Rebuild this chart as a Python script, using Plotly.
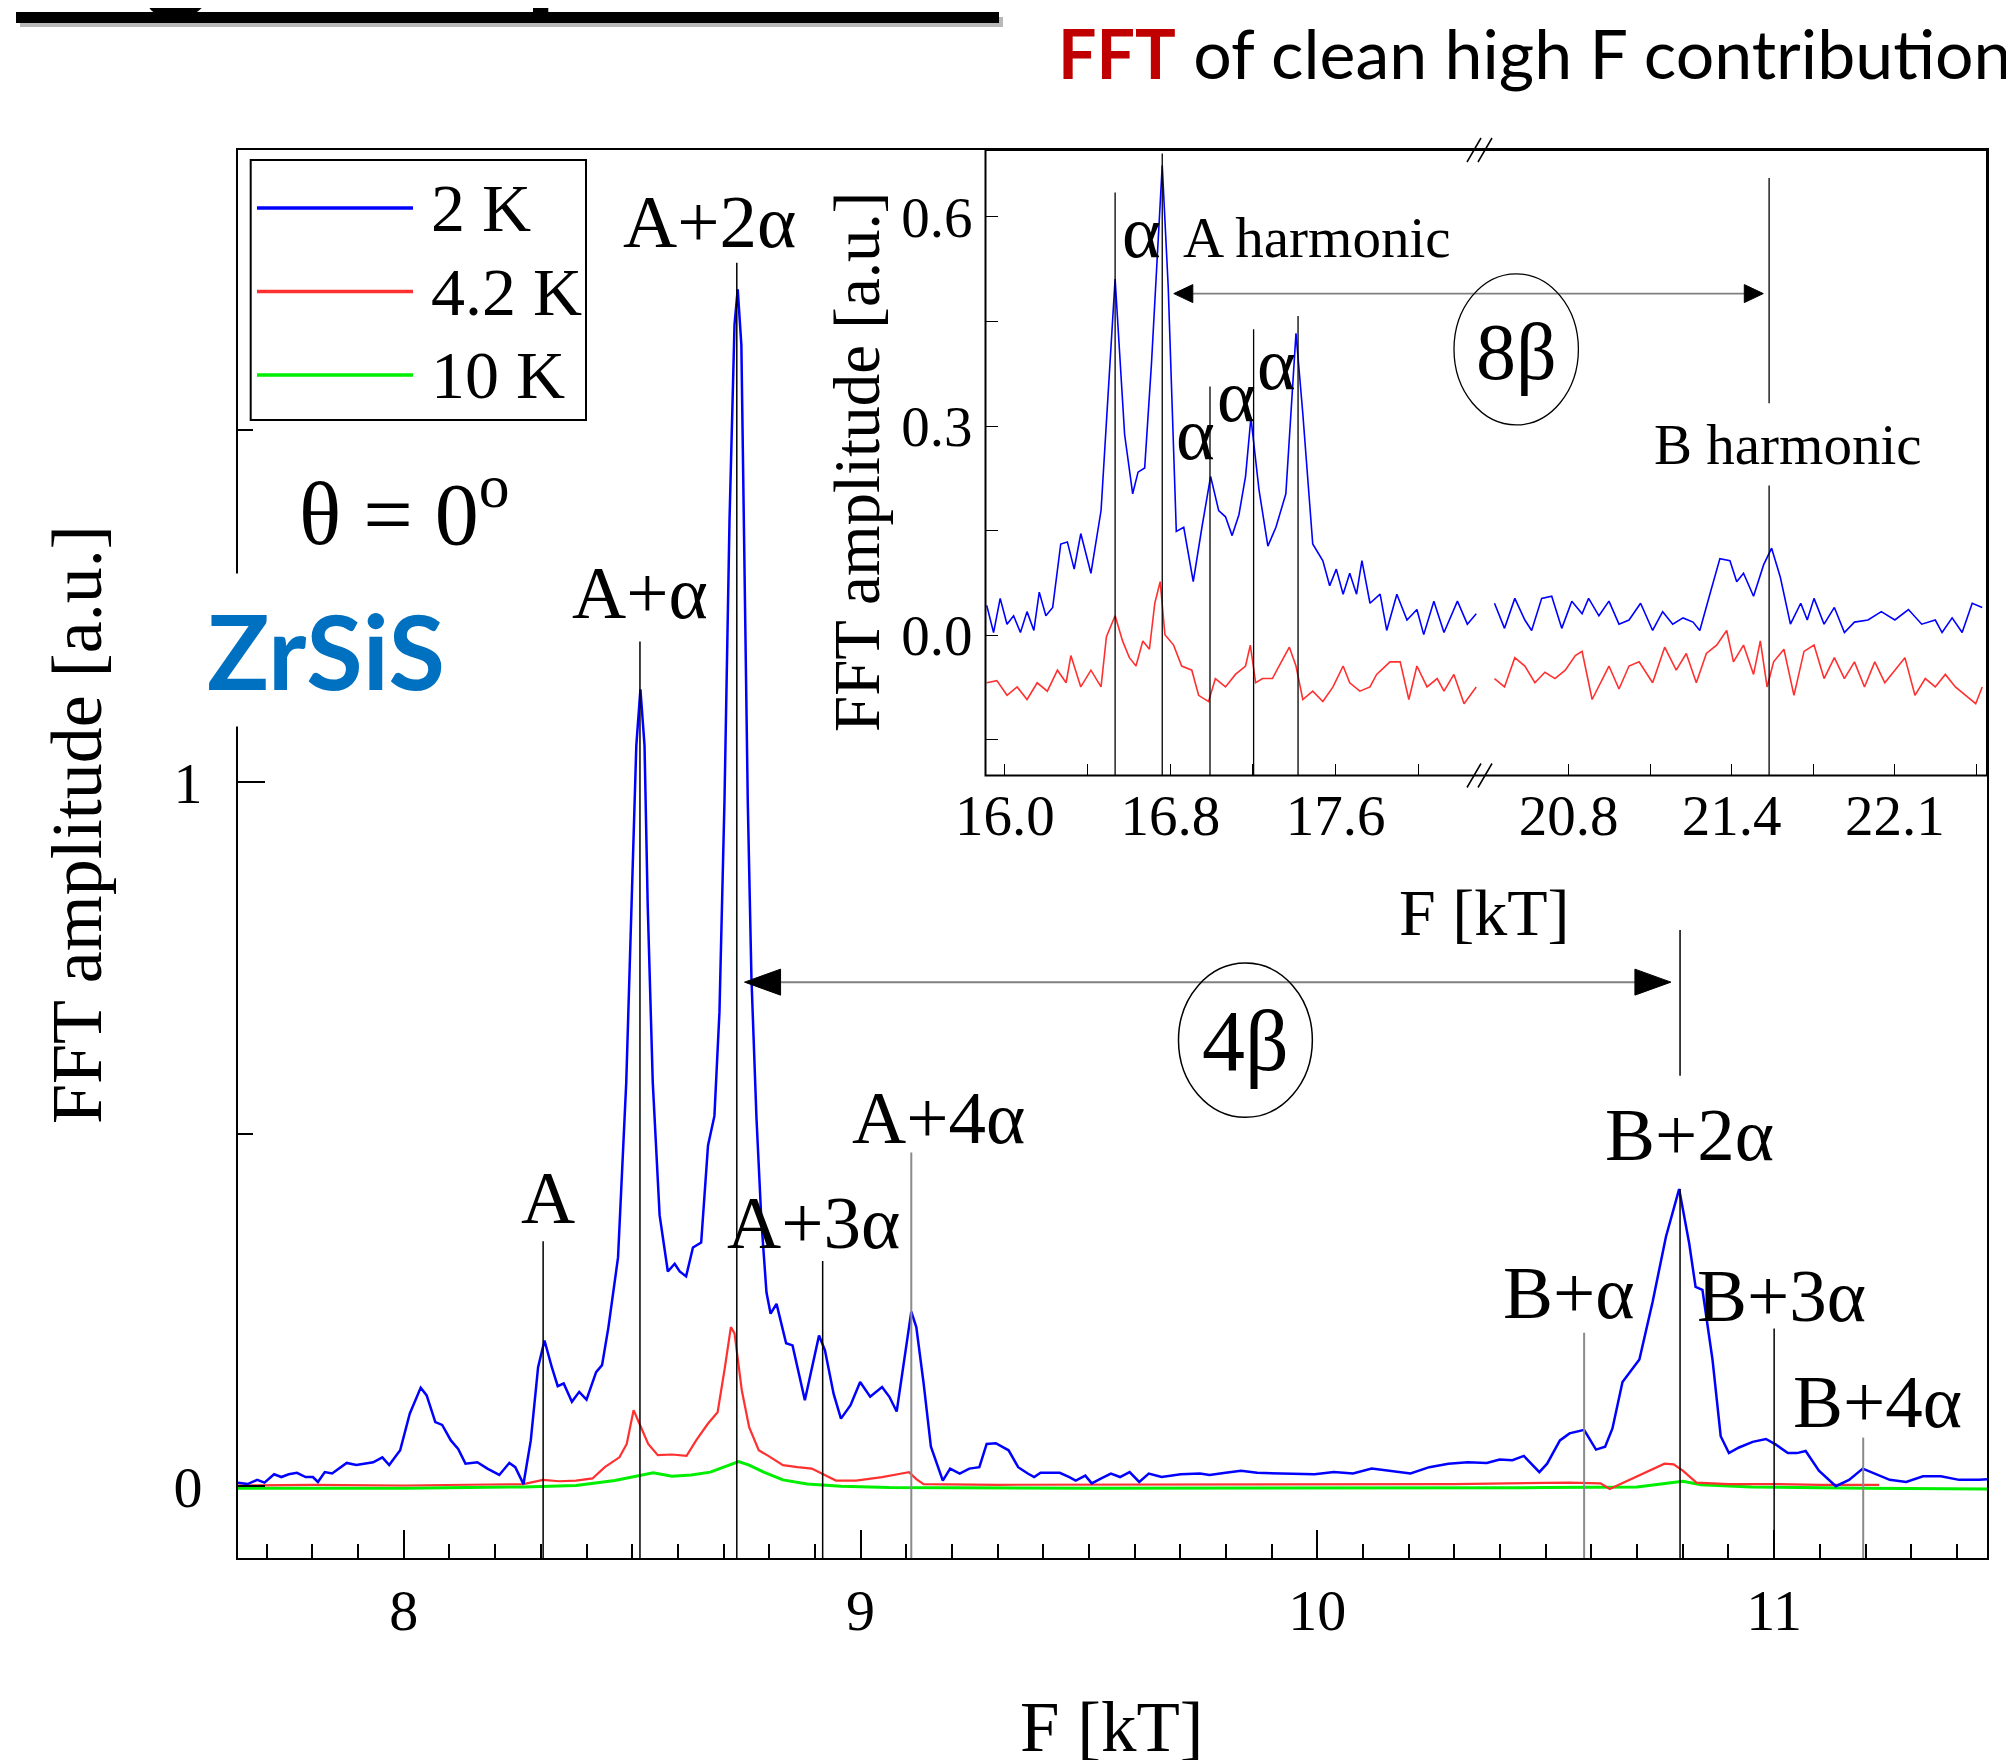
import plotly.graph_objects as go

W, H = 2014, 1760
OFF = 8  # the page body margin shifts the figure by 8 px
SERIF = "Liberation Serif, Times New Roman, serif"
SANS = "Lato, Calibri, sans-serif"


def px(x):
    return (x - OFF) / W


def py(y):
    return 1 - (y - OFF) / H


# ---------------- main panel: FFT spectra (F in kT, amplitude in a.u.) ----------------
f_2k = [7.637, 7.658, 7.679, 7.695, 7.716, 7.732, 7.748, 7.766, 7.785, 7.801, 7.812, 7.827, 7.843,
        7.875, 7.896, 7.917, 7.933, 7.953, 7.968, 7.992, 8.013, 8.037, 8.050, 8.069, 8.084, 8.103,
        8.119, 8.135, 8.161, 8.183, 8.209, 8.231, 8.244, 8.262, 8.278, 8.294, 8.308, 8.324, 8.337,
        8.350, 8.368, 8.384, 8.400, 8.421, 8.434, 8.448, 8.458, 8.469, 8.487, 8.498, 8.509, 8.518,
        8.527, 8.534, 8.545, 8.560, 8.578, 8.593, 8.604, 8.618, 8.633, 8.651, 8.666, 8.680, 8.691,
        8.702, 8.713, 8.724, 8.731, 8.739, 8.746, 8.753, 8.761, 8.772, 8.783, 8.794, 8.803, 8.816,
        8.837, 8.851, 8.878, 8.893, 8.909, 8.922, 8.941, 8.957, 8.978, 8.999, 9.021, 9.047, 9.063,
        9.079, 9.095, 9.111, 9.122, 9.138, 9.154, 9.180, 9.196, 9.217, 9.238, 9.260, 9.276, 9.296,
        9.324, 9.345, 9.366, 9.380, 9.394, 9.436, 9.457, 9.471, 9.492, 9.506, 9.527, 9.548, 9.568,
        9.589, 9.610, 9.631, 9.659, 9.701, 9.743, 9.764, 9.799, 9.833, 9.868, 9.910, 9.952, 9.994,
        10.036, 10.078, 10.119, 10.161, 10.204, 10.245, 10.287, 10.329, 10.371, 10.399, 10.427,
        10.452, 10.469, 10.486, 10.503, 10.531, 10.552, 10.584, 10.610, 10.630, 10.646, 10.668,
        10.705, 10.734, 10.763, 10.792, 10.814, 10.828, 10.843, 10.865, 10.883, 10.901, 10.923,
        10.953, 10.982, 11.004, 11.030, 11.050, 11.069, 11.098, 11.135, 11.164, 11.194, 11.223,
        11.253, 11.289, 11.326, 11.365, 11.405, 11.449, 11.466]
amp_2k = [0.005, 0.003, 0.009, 0.005, 0.017, 0.013, 0.017, 0.019, 0.013, 0.013, 0.006, 0.020, 0.018,
          0.033, 0.030, 0.032, 0.034, 0.041, 0.030, 0.051, 0.103, 0.140, 0.129, 0.091, 0.087, 0.065,
          0.053, 0.032, 0.034, 0.025, 0.016, 0.033, 0.027, 0.003, 0.065, 0.169, 0.207, 0.169, 0.142,
          0.146, 0.120, 0.134, 0.123, 0.162, 0.172, 0.226, 0.270, 0.325, 0.574, 0.824, 1.052, 1.132,
          1.052, 0.824, 0.574, 0.385, 0.305, 0.316, 0.305, 0.298, 0.339, 0.346, 0.484, 0.526, 0.673,
          0.973, 1.371, 1.650, 1.700, 1.621, 1.272, 0.973, 0.723, 0.524, 0.375, 0.275, 0.245, 0.259,
          0.203, 0.200, 0.122, 0.169, 0.214, 0.193, 0.131, 0.096, 0.115, 0.148, 0.127, 0.141, 0.127,
          0.106, 0.179, 0.248, 0.226, 0.146, 0.056, 0.008, 0.025, 0.018, 0.025, 0.027, 0.060, 0.061,
          0.051, 0.027, 0.018, 0.013, 0.019, 0.019, 0.013, 0.008, 0.015, 0.004, 0.011, 0.018, 0.013,
          0.020, 0.006, 0.018, 0.013, 0.017, 0.018, 0.016, 0.019, 0.022, 0.019, 0.018, 0.018, 0.017,
          0.020, 0.018, 0.025, 0.022, 0.018, 0.027, 0.032, 0.034, 0.033, 0.038, 0.037,
          0.043, 0.032, 0.020, 0.032, 0.065, 0.075, 0.080, 0.052, 0.056, 0.082, 0.148,
          0.180, 0.262, 0.354, 0.422, 0.345, 0.283, 0.279, 0.180, 0.071, 0.047, 0.055,
          0.063, 0.067, 0.059, 0.047, 0.047, 0.050, 0.022, 0.000, 0.009, 0.025, 0.017,
          0.009, 0.006, 0.014, 0.014, 0.009, 0.009, 0.010]

f_42k = [7.637, 7.8, 8.0, 8.2, 8.262, 8.305, 8.34, 8.377, 8.413, 8.440, 8.472, 8.488, 8.503, 8.519,
         8.535, 8.556, 8.587, 8.619, 8.640, 8.666, 8.687, 8.703, 8.716, 8.724, 8.740, 8.756, 8.777,
         8.798, 8.830, 8.862, 8.893, 8.915, 8.946, 8.99, 9.047, 9.090, 9.106, 9.122, 9.138, 9.3, 9.6,
         10.0, 10.3, 10.55, 10.62, 10.64, 10.70, 10.76, 10.78, 10.80, 10.83, 10.9, 11.0, 11.1, 11.23]
amp_42k = [0.001, 0.002, 0.001, 0.002, 0.003, 0.009, 0.007, 0.008, 0.011, 0.027, 0.041, 0.060, 0.108,
           0.084, 0.060, 0.044, 0.045, 0.043, 0.065, 0.089, 0.105, 0.169, 0.226, 0.217, 0.136, 0.084,
           0.051, 0.043, 0.030, 0.027, 0.025, 0.018, 0.008, 0.008, 0.013, 0.018, 0.020, 0.010, 0.003,
           0.002, 0.002, 0.002, 0.003, 0.005, 0.004, -0.004, 0.014, 0.032, 0.031, 0.022, 0.005, 0.003,
           0.003, 0.002, 0.002]

f_10k = [7.637, 8.0, 8.262, 8.377, 8.462, 8.514, 8.546, 8.587, 8.629, 8.671, 8.703, 8.733, 8.756,
         8.788, 8.830, 8.883, 8.957, 9.063, 9.5, 10.0, 10.5, 10.7, 10.76, 10.80, 10.84, 10.95, 11.2,
         11.466]
amp_10k = [-0.003, -0.003, -0.001, 0.001, 0.008, 0.015, 0.019, 0.014, 0.016, 0.020, 0.028, 0.035,
           0.030, 0.020, 0.009, 0.003, 0.000, -0.002, -0.003, -0.003, -0.002, -0.001, 0.004, 0.007,
           0.002, -0.001, -0.003, -0.004]

# peak assignments in the main panel
peak_names = ["A", "A+α", "A+2α", "A+3α", "A+4α", "B+α", "B+2α", "B+3α", "B+4α"]
peak_f = [8.305, 8.517, 8.729, 8.917, 9.111, 10.584, 10.794, 11.000, 11.195]
peak_line_top = [0.348, 1.200, 1.738, 0.320, 0.474, 0.218, 0.422, 0.224, 0.069]
peak_line_grey = [False, False, False, False, True, True, False, False, True]
peak_label_f = [8.315, 8.516, 8.670, 8.896, 9.171, 10.551, 10.814, 11.016, 11.227]
peak_label_amp = [0.410, 1.270, 1.797, 0.375, 0.524, 0.275, 0.499, 0.271, 0.121]

# ---------------- inset: high-F contribution (broken F axis) ----------------
fin_lo_2k = [15.912, 15.945, 15.977, 16.010, 16.042, 16.075, 16.107, 16.140, 16.166, 16.198, 16.231,
             16.270, 16.302, 16.335, 16.367, 16.416, 16.465, 16.504, 16.533, 16.579, 16.618, 16.644,
             16.676, 16.709, 16.761, 16.790, 16.829, 16.865, 16.911, 16.953, 16.995, 17.034, 17.067,
             17.099, 17.132, 17.164, 17.190, 17.229, 17.272, 17.311, 17.359, 17.408, 17.441, 17.489,
             17.538, 17.571, 17.603, 17.636, 17.668, 17.701, 17.727, 17.766, 17.815, 17.847, 17.896,
             17.945, 17.993, 18.026, 18.075, 18.124, 18.189, 18.237, 18.280]
ain_lo_2k = [0.043, 0.004, 0.053, 0.016, 0.028, 0.004, 0.034, 0.007, 0.062, 0.028, 0.040,
             0.131, 0.134, 0.095, 0.146, 0.089, 0.179, 0.372, 0.511, 0.288, 0.203, 0.234,
             0.240, 0.390, 0.674, 0.499, 0.149, 0.155, 0.077, 0.155, 0.228, 0.179, 0.170,
             0.143, 0.173, 0.228, 0.312, 0.209, 0.128, 0.155, 0.203, 0.433, 0.318, 0.131,
             0.107, 0.071, 0.095, 0.059, 0.089, 0.059, 0.107, 0.046, 0.059, 0.007, 0.059,
             0.022, 0.037, 0.001, 0.049, 0.004, 0.049, 0.016, 0.031]
fin_hi_2k = [20.505, 20.545, 20.586, 20.626, 20.653, 20.693, 20.733, 20.773, 20.813, 20.854, 20.880,
             20.921, 20.961, 21.001, 21.041, 21.087, 21.135, 21.175, 21.215, 21.256, 21.296, 21.323,
             21.363, 21.403, 21.443, 21.470, 21.497, 21.537, 21.577, 21.609, 21.644, 21.684, 21.725,
             21.751, 21.778, 21.818, 21.859, 21.899, 21.939, 21.993, 22.046, 22.100, 22.154, 22.207,
             22.261, 22.288, 22.328, 22.368, 22.408, 22.448]
ain_hi_2k = [0.046, 0.010, 0.053, 0.022, 0.007, 0.053, 0.056, 0.010, 0.049, 0.031, 0.053,
             0.028, 0.049, 0.016, 0.022, 0.046, 0.007, 0.034, 0.016, 0.025, 0.019, 0.007,
             0.059, 0.110, 0.107, 0.077, 0.089, 0.056, 0.101, 0.125, 0.083, 0.016, 0.046,
             0.022, 0.053, 0.016, 0.040, 0.004, 0.019, 0.022, 0.034, 0.022, 0.037, 0.016,
             0.022, 0.004, 0.025, 0.004, 0.046, 0.040]
fin_lo_42k = [15.912, 15.961, 16.010, 16.059, 16.107, 16.156, 16.205, 16.254, 16.296, 16.319, 16.367,
              16.416, 16.465, 16.491, 16.533, 16.569, 16.602, 16.634, 16.667, 16.699, 16.725, 16.751,
              16.774, 16.816, 16.855, 16.904, 16.937, 16.985, 17.018, 17.067, 17.115, 17.164, 17.187,
              17.213, 17.246, 17.294, 17.337, 17.376, 17.408, 17.441, 17.489, 17.538, 17.587, 17.636,
              17.668, 17.717, 17.766, 17.798, 17.863, 17.912, 17.954, 17.993, 18.042, 18.091, 18.124,
              18.172, 18.221, 18.280]
ain_lo_42k = [-0.068, -0.065, -0.086, -0.074, -0.092, -0.068, -0.080, -0.050, -0.068, -0.029, -0.074,
              -0.050, -0.074, -0.002, 0.028, -0.008, -0.032, -0.044, -0.008, -0.020, 0.046, 0.077,
              0.001, -0.014, -0.044, -0.050, -0.086, -0.095, -0.062, -0.074, -0.056, -0.044, -0.014,
              -0.068, -0.062, -0.062, -0.038, -0.017, -0.044, -0.092, -0.080, -0.095, -0.074, -0.044,
              -0.068, -0.080, -0.074, -0.056, -0.038, -0.038, -0.092, -0.044, -0.074, -0.062, -0.080,
              -0.056, -0.098, -0.074]
fin_hi_42k = [20.505, 20.545, 20.586, 20.626, 20.666, 20.706, 20.746, 20.787, 20.827, 20.854, 20.894,
              20.934, 20.961, 21.001, 21.041, 21.081, 21.135, 21.183, 21.229, 21.269, 21.309, 21.349,
              21.390, 21.430, 21.457, 21.497, 21.537, 21.564, 21.591, 21.617, 21.658, 21.698, 21.738,
              21.778, 21.818, 21.859, 21.899, 21.939, 21.979, 22.020, 22.060, 22.100, 22.140, 22.180,
              22.221, 22.261, 22.301, 22.341, 22.381, 22.422, 22.448]
ain_hi_42k = [-0.062, -0.074, -0.032, -0.044, -0.068, -0.053, -0.062, -0.050, -0.029, -0.023, -0.092,
              -0.062, -0.044, -0.077, -0.044, -0.038, -0.068, -0.017, -0.050, -0.026, -0.068, -0.026,
              -0.014, 0.007, -0.038, -0.014, -0.056, -0.008, -0.074, -0.038, -0.020, -0.086, -0.023,
              -0.014, -0.062, -0.032, -0.062, -0.038, -0.074, -0.038, -0.068, -0.050, -0.032, -0.086,
              -0.062, -0.074, -0.056, -0.074, -0.086, -0.098, -0.074]

inset_alpha_f = [16.533, 16.761, 16.992, 17.203, 17.418]
inset_alpha_top = [0.635, 0.691, 0.357, 0.439, 0.458]
inset_alpha_label_f = [16.660, 16.924, 17.119, 17.314]
inset_alpha_label_amp = [0.579, 0.289, 0.343, 0.389]
inset_b_f = 21.599

BLUE, RED, GREEN = "#0000FF", "#FF3030", "#00EE00"

fig = go.Figure()
# main spectra
fig.add_trace(go.Scatter(x=f_10k, y=amp_10k, mode="lines", name="10 K",
                         line=dict(color=GREEN, width=3), xaxis="x", yaxis="y"))
fig.add_trace(go.Scatter(x=f_42k, y=amp_42k, mode="lines", name="4.2 K",
                         line=dict(color=RED, width=2.2), xaxis="x", yaxis="y"))
fig.add_trace(go.Scatter(x=f_2k, y=amp_2k, mode="lines", name="2 K",
                         line=dict(color=BLUE, width=2.5), xaxis="x", yaxis="y"))
# inset spectra
for xs, ys, col, xa in [(fin_lo_42k, ain_lo_42k, RED, "x2"), (fin_hi_42k, ain_hi_42k, RED, "x3"),
                        (fin_lo_2k, ain_lo_2k, BLUE, "x2"), (fin_hi_2k, ain_hi_2k, BLUE, "x3")]:
    fig.add_trace(go.Scatter(x=xs, y=ys, mode="lines", line=dict(color=col, width=1.6),
                             xaxis=xa, yaxis="y2", showlegend=False))

tickfont_main = dict(family=SERIF, size=58, color="black")
tickfont_in = dict(family=SERIF, size=57, color="black")

fig.update_layout(
    template="none",
    width=W, height=H,
    margin=dict(l=0, r=0, t=0, b=0),
    paper_bgcolor="white", plot_bgcolor="white",
    showlegend=False,
    xaxis=dict(domain=[px(238), px(1987)], range=[7.637, 11.466], anchor="y",
               showline=True, linecolor="black", linewidth=2, mirror=True,
               ticks="inside", ticklen=28, tickwidth=1.5, tickcolor="black",
               tick0=0, dtick=1, tickfont=tickfont_main, ticklabelstandoff=0,
               showgrid=False, zeroline=False, automargin=False,
               minor=dict(ticks="inside", ticklen=14, tickwidth=1.5, tickcolor="black",
                          dtick=0.1, tick0=0, showgrid=False)),
    yaxis=dict(domain=[py(1558), py(150)], range=[-0.102, 1.898], anchor="x",
               showline=True, linecolor="black", linewidth=2, mirror=True,
               ticks="inside", ticklen=27, tickwidth=1.5, tickcolor="black",
               tickmode="array", tickvals=[0, 1], ticktext=["0", "1"],
               tickfont=tickfont_main, ticklabelstandoff=22,
               showgrid=False, zeroline=False, automargin=False,
               minor=dict(ticks="inside", ticklen=15, tickwidth=1.5, tickcolor="black",
                          tickmode="array", tickvals=[0.5, 1.5], showgrid=False)),
    xaxis2=dict(domain=[px(985.5), px(1484.3)], range=[15.906, 18.319], anchor="y2",
                showline=False, ticks="inside", ticklen=12, tickwidth=1.2, tickcolor="black",
                tickmode="array", tickvals=[16.0, 16.8, 17.6], ticktext=["16.0", "16.8", "17.6"],
                tickfont=tickfont_in, ticklabelstandoff=1,
                showgrid=False, zeroline=False, automargin=False,
                minor=dict(ticks="inside", ticklen=12, tickwidth=1.2, tickcolor="black",
                           tickmode="array", tickvals=[16.4, 17.2, 18.0], showgrid=False)),
    xaxis3=dict(domain=[px(1487.7), px(1987)], range=[20.478, 22.467], anchor="y2",
                showline=False, ticks="inside", ticklen=12, tickwidth=1.2, tickcolor="black",
                tickmode="array", tickvals=[20.8, 21.45, 22.1], ticktext=["20.8", "21.4", "22.1"],
                tickfont=tickfont_in, ticklabelstandoff=1,
                showgrid=False, zeroline=False, automargin=False,
                minor=dict(ticks="inside", ticklen=12, tickwidth=1.2, tickcolor="black",
                           tickmode="array", tickvals=[21.125, 21.775, 22.425], showgrid=False)),
    yaxis2=dict(domain=[py(775.5), py(150)], range=[-0.201, 0.696], anchor="x2",
                showline=False, ticks="inside", ticklen=12, tickwidth=1.2, tickcolor="black",
                tickmode="array", tickvals=[0.0, 0.3, 0.6], ticktext=["0.0", "0.3", "0.6"],
                tickfont=tickfont_in, ticklabelstandoff=12,
                showgrid=False, zeroline=False, automargin=False,
                minor=dict(ticks="inside", ticklen=12, tickwidth=1.2, tickcolor="black",
                           tickmode="array", tickvals=[-0.15, 0.15, 0.45], showgrid=False)),
)

shapes = []
# underline of the (cut-off) slide heading, with soft shadow
shapes.append(dict(type="line", xref="paper", yref="paper", x0=px(20), x1=px(1003), y0=py(22), y1=py(22),
                   line=dict(color="rgba(0,0,0,0.28)", width=10)))
shapes.append(dict(type="line", xref="paper", yref="paper", x0=px(16), x1=px(999), y0=py(17.5), y1=py(17.5),
                   line=dict(color="black", width=11)))

# peak marker lines (main)
for f, top, grey in zip(peak_f, peak_line_top, peak_line_grey):
    shapes.append(dict(type="line", xref="x", yref="y", x0=f, x1=f, y0=-0.102, y1=top,
                       line=dict(color="#8a8a8a" if grey else "black", width=2 if grey else 1.5)))
# upper segment of the B+2α marker (arrow target)
shapes.append(dict(type="line", xref="x", yref="y", x0=10.794, x1=10.794, y0=0.583, y1=0.790,
                   line=dict(color="black", width=1.5)))
# 4β double arrow: grey shaft, black heads, ellipse
shapes.append(dict(type="line", xref="x", yref="y", x0=8.78, x1=10.74, y0=0.716, y1=0.716,
                   line=dict(color="#808080", width=2)))
shapes.append(dict(type="path", xref="x", yref="y", xsizemode="pixel", ysizemode="pixel",
                   xanchor=10.774, yanchor=0.716, path="M0,0 L-36,13 L-36,-13 Z",
                   fillcolor="black", line=dict(color="black", width=1)))
shapes.append(dict(type="path", xref="x", yref="y", xsizemode="pixel", ysizemode="pixel",
                   xanchor=8.746, yanchor=0.716, path="M0,0 L36,13 L36,-13 Z",
                   fillcolor="black", line=dict(color="black", width=1)))
shapes.append(dict(type="circle", xref="x", yref="y", x0=9.696, x1=9.989, y0=0.524, y1=0.743,
                   line=dict(color="black", width=1.5)))

# inset frame and axis break marks
shapes.append(dict(type="rect", xref="paper", yref="paper", x0=px(985.5), x1=px(1987), y0=py(775.5), y1=py(150),
                   line=dict(color="black", width=2)))
for cx in (1474, 1485):
    for cy in (150, 775.5):
        shapes.append(dict(type="line", xref="paper", yref="paper", x0=px(cx - 7), x1=px(cx + 7),
                           y0=py(cy + 12), y1=py(cy - 12), line=dict(color="black", width=1.5)))
# inset marker lines
for f, top in zip(inset_alpha_f, inset_alpha_top):
    shapes.append(dict(type="line", xref="x2", yref="y2", x0=f, x1=f, y0=-0.201, y1=top,
                       line=dict(color="black", width=1.3)))
shapes.append(dict(type="line", xref="x3", yref="y2", x0=inset_b_f, x1=inset_b_f, y0=0.333, y1=0.656,
                   line=dict(color="black", width=1.3)))
shapes.append(dict(type="line", xref="x3", yref="y2", x0=inset_b_f, x1=inset_b_f, y0=-0.201, y1=0.215,
                   line=dict(color="black", width=1.3)))
# 8β double arrow and ellipse
shapes.append(dict(type="line", xref="paper", yref="paper", x0=px(1185), x1=px(1752), y0=py(293.6), y1=py(293.6),
                   line=dict(color="#808080", width=1.6)))
shapes.append(dict(type="path", xref="paper", yref="paper", xsizemode="pixel", ysizemode="pixel",
                   xanchor=px(1763.3), yanchor=py(293.6), path="M0,0 L-19,9 L-19,-9 Z",
                   fillcolor="black", line=dict(color="black", width=1)))
shapes.append(dict(type="path", xref="paper", yref="paper", xsizemode="pixel", ysizemode="pixel",
                   xanchor=px(1173.8), yanchor=py(293.6), path="M0,0 L19,9 L19,-9 Z",
                   fillcolor="black", line=dict(color="black", width=1)))
shapes.append(dict(type="circle", xref="paper", yref="paper", x0=px(1454), x1=px(1578.4), y0=py(424.9), y1=py(273.8),
                   line=dict(color="black", width=1.3)))

# manual legend (long line samples as in the original)
shapes.append(dict(type="rect", xref="paper", yref="paper", x0=px(250.7), x1=px(586), y0=py(420), y1=py(160),
                   line=dict(color="black", width=2)))
legend_names = ["2 K", "4.2 K", "10 K"]
legend_colors = [BLUE, RED, GREEN]
legend_y = [208, 291.5, 375]
for col, ly in zip(legend_colors, legend_y):
    shapes.append(dict(type="line", xref="paper", yref="paper", x0=px(257), x1=px(413), y0=py(ly), y1=py(ly),
                       line=dict(color=col, width=3.5)))

fig.update_layout(shapes=shapes)


def note(text, x, y, size, xref="paper", yref="paper", family=SERIF, color="black", **kw):
    d = dict(text=text, xref=xref, yref=yref, x=x, y=y, showarrow=False,
             xanchor=kw.pop("xanchor", "center"), yanchor=kw.pop("yanchor", "middle"),
             font=dict(family=family, size=size, color=color))
    d.update(kw)
    return d


ann = []
# slide heading (mostly above the visible area) and subtitle
ann.append(note("<b>High Frequencies</b>", px(16), py(23), 124, family=SANS,
                xanchor="left", yanchor="bottom"))
ann.append(note("<b><span style='color:#C00000'>FFT</span></b> of clean high F contribution",
                px(1056), py(52), 68, family=SANS, xanchor="left"))
# legend text
for name, ly in zip(legend_names, legend_y):
    ann.append(note(name, px(429), py(ly), 68, xanchor="left"))
# peak labels
for name, lf, la in zip(peak_names, peak_label_f, peak_label_amp):
    ann.append(note(name, lf, la, 75, xref="x", yref="y"))
ann.append(note("θ = 0<sup>o</sup>", 8.001, 1.39, 88, xref="x", yref="y"))
ann.append(note("<b>ZrSiS</b>", px(326), py(650), 103, family=SANS, color="#0070C0",
                bgcolor="white", borderpad=14))
ann.append(note("4β", 9.842, 0.633, 86, xref="x", yref="y"))
# axis titles (main)
ann.append(note("F [kT]", px(1111), py(1727), 71))
ann.append(note("FFT amplitude [a.u.]", px(77), py(825), 72, textangle=-90))
# inset texts
for lf, la in zip(inset_alpha_label_f, inset_alpha_label_amp):
    ann.append(note("α", lf, la, 74, xref="x2", yref="y2"))
ann.append(note("A harmonic", 17.512, 0.570, 57, xref="x2", yref="y2"))
ann.append(note("B harmonic", 21.676, 0.273, 57, xref="x3", yref="y2"))
ann.append(note("8β", px(1516.5), py(352), 80))
ann.append(note("F [kT]", px(1483.5), py(912), 66))
ann.append(note("FFT amplitude [a.u.]", px(857), py(462), 65, textangle=-90))

fig.update_layout(annotations=ann)

fig.write_html("out.html")
